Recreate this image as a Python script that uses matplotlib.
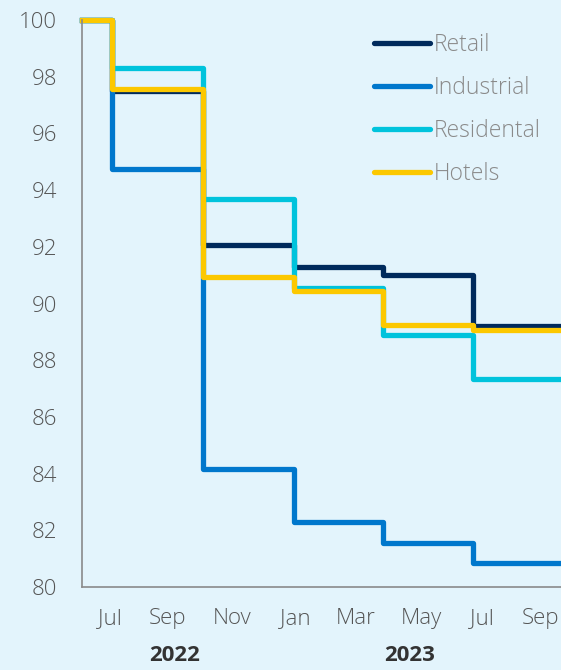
import matplotlib
matplotlib.use("Agg")
import matplotlib.pyplot as plt
import pandas as pd

# ---- data ----
dates = ["2022-06-01", "2022-07-01", "2022-10-01", "2023-01-01", "2023-04-01", "2023-07-01", "2023-09-28"]
retail      = [100.0, 97.5, 92.05, 91.3, 91.0, 89.2]
industrial  = [100.0, 94.75, 84.15, 82.3, 81.55, 80.85]
residential = [100.0, 98.3, 93.7, 90.55, 88.9, 87.35]
hotels      = [100.0, 97.55, 90.95, 90.45, 89.25, 89.05]
series_names = ["Retail", "Industrial", "Residental", "Hotels"]
month_labels = ["Jul", "Sep", "Nov", "Jan", "Mar", "May", "Jul", "Sep"]
month_ticks = ["2022-06-29", "2022-08-26", "2022-10-31", "2023-01-03",
               "2023-03-05", "2023-05-10", "2023-07-10", "2023-09-07"]
years = ["2022", "2023"]
yticks = [80, 82, 84, 86, 88, 90, 92, 94, 96, 98, 100]

colors = ["#002a5c", "#0077cc", "#00c3dc", "#fcc800"]
bg = "#e3f4fc"

plt.rcParams['font.family'] = ['Open Sans', 'DejaVu Sans']

fig = plt.figure(figsize=(5.61, 6.70), dpi=100, facecolor=bg)
ax = fig.add_axes([82/561, 1-587/670, 1-82/561, (587-20)/670])
ax.set_facecolor(bg)

x = pd.to_datetime(dates)
for vals, name, c in zip([retail, industrial, residential, hotels], series_names, colors):
    y = list(vals) + [vals[-1]]
    ax.step(x, y, where="post", color=c, lw=3.8, label=name,
            solid_joinstyle="round", clip_on=False)

ax.set_xlim(x[0], x[-1])
ax.set_ylim(80, 100)
ax.set_yticks(yticks)
ax.set_xticks(pd.to_datetime(month_ticks))
ax.set_xticklabels(month_labels)
ax.tick_params(axis="both", length=0, labelsize=16, labelcolor="#555555")
ax.tick_params(axis="x", pad=15)
ax.tick_params(axis="y", pad=18)
for lab in ax.get_xticklabels() + ax.get_yticklabels():
    lab.set_fontweight(300)

for s in ["top", "right"]:
    ax.spines[s].set_visible(False)
for s in ["left", "bottom"]:
    ax.spines[s].set_color("#8a8a8a")
    ax.spines[s].set_linewidth(1.2)

fig.text(175/561, 4/670, years[0], ha="center", va="bottom", fontsize=16,
         fontweight="bold", color="#333333")
fig.text(410/561, 4/670, years[1], ha="center", va="bottom", fontsize=16,
         fontweight="bold", color="#333333")

leg = ax.legend(loc="upper left", bbox_to_anchor=(374/561, 1-33/670),
                bbox_transform=fig.transFigure, frameon=False, fontsize=16.5,
                handlelength=2.45, handletextpad=0.15, labelspacing=0.83,
                borderpad=0, borderaxespad=0)
for t in leg.get_texts():
    t.set_color("#8a8a8a")
    t.set_fontweight(300)
for h in leg.get_lines():
    h.set_solid_capstyle("round")
    h.set_linewidth(3.8)

fig.savefig("out.png", dpi=100, facecolor=bg)
